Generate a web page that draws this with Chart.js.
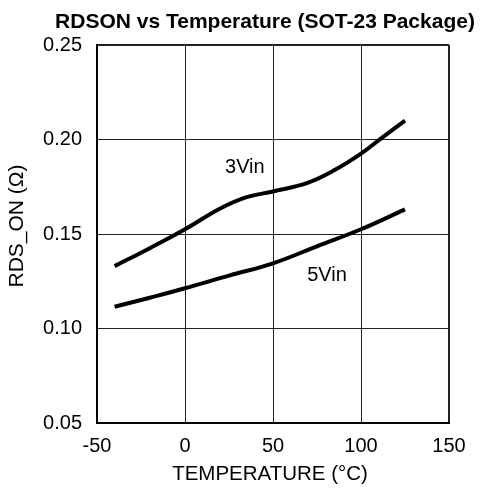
<!DOCTYPE html>
<html>
<head>
<meta charset="utf-8">
<script src="https://cdn.jsdelivr.net/npm/chart.js@4/dist/chart.umd.min.js"></script>
<style>
html,body{margin:0;padding:0;background:#fff;}
#wrap{width:482px;height:491px;position:relative;}
</style>
</head>
<body>
<div id="wrap"><canvas id="c" width="482" height="491"></canvas></div>
<script>
const temps3 = [-40, -20, 0, 20, 35, 50, 70, 85, 100, 112, 125];
const rds3V  = [0.133, 0.1425, 0.1525, 0.1635, 0.1695, 0.1725, 0.1772, 0.1838, 0.1925, 0.201, 0.210];
const temps5 = [-40, -20, 0, 25, 50, 75, 100, 125];
const rds5V  = [0.1115, 0.1163, 0.1213, 0.128, 0.1345, 0.1435, 0.1525, 0.163];
const xTicks = [-50, 0, 50, 100, 150];
const yTicks = [0.05, 0.10, 0.15, 0.20, 0.25];
const titleText = 'RDSON vs Temperature (SOT-23 Package)';
const xTitle = 'TEMPERATURE (\u00B0C)';
const yTitle = 'RDS_ON (\u03A9)';
const seriesLabels = [{text:'3Vin', x:34, y:0.1853}, {text:'5Vin', x:80.7, y:0.1283}];

const FONT = '"Liberation Sans", Arial, sans-serif';

const textPlugin = {
  id: 'texts',
  afterDraw(chart) {
    const ctx = chart.ctx;
    const xs = chart.scales.x, ys = chart.scales.y;
    ctx.save();
    ctx.fillStyle = '#000';
    ctx.textAlign = 'center';
    ctx.textBaseline = 'middle';
    ctx.font = 'bold 21px ' + FONT;
    ctx.fillText(titleText, 265, 22);
    ctx.font = '20.5px ' + FONT;
    ctx.fillText(xTitle, 270, 474);
    ctx.font = '20px ' + FONT;
    seriesLabels.forEach(l => {
      ctx.fillText(l.text, xs.getPixelForValue(l.x), ys.getPixelForValue(l.y));
    });
    ctx.font = '21px ' + FONT;
    ctx.translate(17, 226);
    ctx.rotate(-Math.PI / 2);
    ctx.fillText(yTitle, 0, 0);
    ctx.restore();
  }
};

function pts(xa, ya) { return xa.map((x, i) => ({x: x, y: ya[i]})); }

new Chart(document.getElementById('c'), {
  type: 'line',
  data: {
    datasets: [
      {label: '3Vin', data: pts(temps3, rds3V), borderColor: '#000', borderWidth: 4, pointRadius: 0, tension: 0.4, fill: false, borderCapStyle: 'butt'},
      {label: '5Vin', data: pts(temps5, rds5V), borderColor: '#000', borderWidth: 4, pointRadius: 0, tension: 0.4, fill: false, borderCapStyle: 'butt'}
    ]
  },
  options: {
    responsive: false,
    animation: false,
    devicePixelRatio: 1,
    layout: {padding: {left: 0, right: 33, top: 45, bottom: 0}},
    plugins: {legend: {display: false}, tooltip: {enabled: false}, title: {display: false}},
    scales: {
      x: {
        type: 'linear', min: -50, max: 150,
        afterBuildTicks: s => { s.ticks = xTicks.map(v => ({value: v})); },
        afterFit: s => { s.height = 68; },
        ticks: {color: '#000', font: {family: FONT, size: 20}, padding: 11, maxRotation: 0},
        grid: {color: '#222', lineWidth: c => (c.tick && c.tick.value === 150 ? 2 : 1), drawTicks: false},
        border: {color: '#000', width: 2}
      },
      y: {
        type: 'linear', min: 0.05, max: 0.25,
        afterBuildTicks: s => { s.ticks = yTicks.map(v => ({value: v})); },
        afterFit: s => { s.width = 97; },
        ticks: {color: '#000', font: {family: FONT, size: 20}, padding: 15, callback: v => v.toFixed(2)},
        grid: {color: '#222', lineWidth: c => (c.tick && Math.abs(c.tick.value - 0.25) < 1e-9 ? 2 : 1), drawTicks: false},
        border: {color: '#000', width: 2}
      }
    }
  },
  plugins: [textPlugin]
});
</script>
</body>
</html>
